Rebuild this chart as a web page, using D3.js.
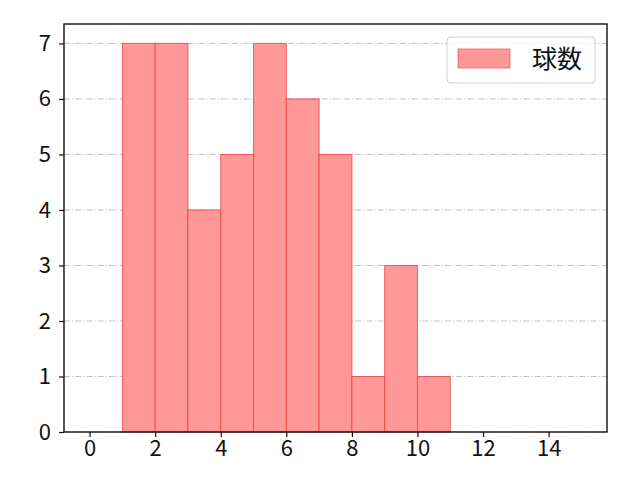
<!DOCTYPE html>
<html>
<head>
<meta charset="utf-8">
<script src="https://cdn.jsdelivr.net/npm/d3@7"></script>
<style>
  body { margin: 0; background: #fff; }
  svg { display: block; font-family: "Noto Sans CJK JP", "Noto Sans", sans-serif; }
</style>
</head>
<body>
<script>
// histogram bins (left edge, right edge) and counts
var binStarts = [1, 2, 3, 4, 5, 6, 7, 8, 9, 10];
var binEnds = [2, 3, 4, 5, 6, 7, 8, 9, 10, 11];
var counts = [7, 7, 4, 5, 7, 6, 5, 1, 3, 1];
var xTicks = [0, 2, 4, 6, 8, 10, 12, 14];
var yTicks = [0, 1, 2, 3, 4, 5, 6, 7];
var seriesName = "球数";

var width = 640, height = 480;
var margin = { top: 24, right: 33, bottom: 48, left: 64 };
var innerW = width - margin.left - margin.right;
var innerH = height - margin.top - margin.bottom;

var svg = d3.select("body").append("svg")
    .attr("width", width)
    .attr("height", height);

var g = svg.append("g")
    .attr("transform", "translate(" + margin.left + "," + margin.top + ")");

var x = d3.scaleLinear().domain([-0.78, 15.78]).range([0, innerW]);
var y = d3.scaleLinear().domain([0, 7.35]).range([innerH, 0]);

// horizontal grid
g.append("g").selectAll("line")
    .data(yTicks)
    .enter().append("line")
    .attr("x1", 0)
    .attr("x2", innerW)
    .attr("y1", function(d) { return y(d); })
    .attr("y2", function(d) { return y(d); })
    .attr("stroke", "#b0b0b0")
    .attr("stroke-width", 0.8)
    .attr("stroke-dasharray", "6,2,1.2,2");

// bars
var bins = binStarts.map(function(s, i) { return { x0: s, x1: binEnds[i], v: counts[i] }; });
g.append("g").selectAll("rect")
    .data(bins)
    .enter().append("rect")
    .attr("x", function(d) { return x(d.x0); })
    .attr("width", function(d) { return x(d.x1) - x(d.x0); })
    .attr("y", function(d) { return y(d.v); })
    .attr("height", function(d) { return y(0) - y(d.v); })
    .attr("fill", "#ff9999")
    .attr("stroke", "#f04040")
    .attr("stroke-opacity", 0.8)
    .attr("stroke-width", 1);

// axes
var xAxis = g.append("g")
    .attr("transform", "translate(0," + innerH + ")")
    .call(d3.axisBottom(x).tickValues(xTicks).tickSize(5).tickPadding(3).tickFormat(d3.format("d")));
var yAxis = g.append("g")
    .call(d3.axisLeft(y).tickValues(yTicks).tickSize(5).tickPadding(8).tickFormat(d3.format("d")));

[xAxis, yAxis].forEach(function(a) {
    a.attr("font-size", 22).attr("font-family", "'Noto Sans CJK JP', sans-serif");
    a.select(".domain").remove();
    a.selectAll("line").attr("stroke", "#111").attr("stroke-width", 1.2);
    a.selectAll("text").attr("fill", "#111");
});

// frame
g.append("rect")
    .attr("width", innerW)
    .attr("height", innerH)
    .attr("fill", "none")
    .attr("stroke", "#111")
    .attr("stroke-width", 1.4);

// legend
var lg = g.append("g").attr("transform", "translate(" + (innerW - 160) + ",13)");
lg.append("rect")
    .attr("width", 148)
    .attr("height", 46)
    .attr("rx", 4)
    .attr("fill", "#fff")
    .attr("fill-opacity", 0.8)
    .attr("stroke", "#d0d0d0")
    .attr("stroke-width", 1);
lg.append("rect")
    .attr("x", 11)
    .attr("y", 12)
    .attr("width", 52)
    .attr("height", 19)
    .attr("fill", "#ff9999")
    .attr("stroke", "#f04040")
    .attr("stroke-opacity", 0.6);
lg.append("text")
    .attr("x", 85)
    .attr("y", 31)
    .attr("font-size", 25)
    .attr("fill", "#111")
    .text(seriesName);
</script>
</body>
</html>
